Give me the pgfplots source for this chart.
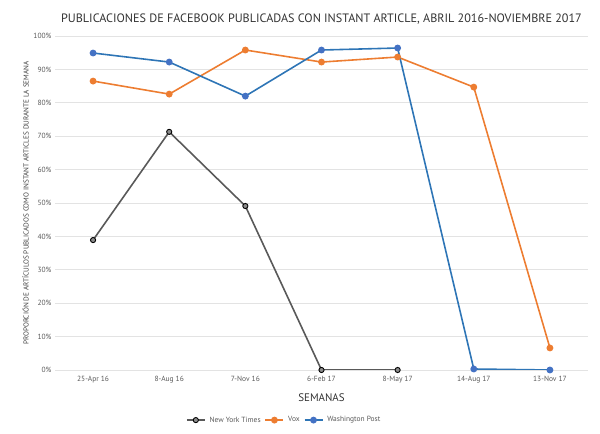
\documentclass[border=0pt]{standalone}
\usepackage{pgfplots}
\pgfplotsset{compat=1.18}
\usepackage{fontspec}
\setmainfont{PT Sans}
\definecolor{nyt}{HTML}{595959}
\definecolor{vox}{HTML}{ED7D31}
\definecolor{wapo}{HTML}{2E75B6}
\definecolor{wapom}{HTML}{4472C4}
\definecolor{gridc}{HTML}{E3E3E3}
\definecolor{txt}{HTML}{595959}
\begin{document}
\begin{tikzpicture}[x=1bp,y=1bp]
\begin{axis}[
  at={(55bp,64bp)}, anchor=south west,
  scale only axis, width=533bp, height=334bp,
  xmin=-0.5, xmax=6.5, ymin=0, ymax=100,
  xtick={0,...,6},
  xticklabels={25-Apr 16,8-Aug 16,7-Nov 16,6-Feb 17,8-May 17,14-Aug 17,13-Nov 17},
  ytick={0,10,...,100},
  yticklabel={\pgfmathprintnumber{\tick}\%},
  /pgf/number format/assume math mode=true,
  axis line style={draw=none},
  major tick length=0pt,
  ymajorgrids, xmajorgrids=false, grid style={draw=gridc, line width=0.8pt},
  tick label style={font=\fontsize{7.5}{9}\selectfont, text=txt},
  xticklabel style={yshift=-3bp},
  title={\fontsize{12.2}{14}\selectfont PUBLICACIONES DE FACEBOOK PUBLICADAS CON INSTANT ARTICLE, ABRIL 2016-NOVIEMBRE 2017},
  title style={text=black!80, yshift=2bp},
  xlabel={SEMANAS},
  xlabel style={font=\fontsize{11}{13}\selectfont, text=black!80, yshift=-3bp},
  ylabel={PROPORCIÓN DE ARTÍCULOS PUBLICADOS COMO INSTANT ARTICLES DURANTE LA SEMANA},
  ylabel style={font=\fontsize{7.2}{8}\selectfont, text=black!75, yshift=-2bp},
  legend columns=3,
  legend style={at={(axis description cs:0.43,-0.15)}, anchor=center, draw=none,
    font=\fontsize{7.5}{9}\selectfont, text=txt, column sep=2bp,
    /tikz/every even column/.append style={column sep=2bp}},
  legend image code/.code={\draw[#1] (0bp,0bp) -- (18bp,0bp); \draw[#1,mark repeat=1] plot coordinates {(9bp,0bp)};},
  every axis plot/.append style={line width=1.6pt, mark=*, mark size=2.6pt},
]
\addplot[nyt, mark options={fill=nyt!70, draw=black, line width=0.9pt}] coordinates {
  (0,38.9) (1,71.3) (2,49.1) (3,0) (4,0)};
\addlegendentry{New York Times}
\addplot[vox, mark options={fill=vox, draw=vox}] coordinates {
  (0,86.5) (1,82.6) (2,95.8) (3,92.2) (4,93.7) (5,84.7) (6,6.6)};
\addlegendentry{Vox}
\addplot[wapo, mark options={fill=wapom, draw=wapom}] coordinates {
  (0,94.9) (1,92.2) (2,82.0) (3,95.8) (4,96.4) (5,0.3) (6,0)};
\addlegendentry{Washington Post}
\end{axis}
\useasboundingbox (0,0) rectangle (600bp,434bp);
\end{tikzpicture}
\end{document}
